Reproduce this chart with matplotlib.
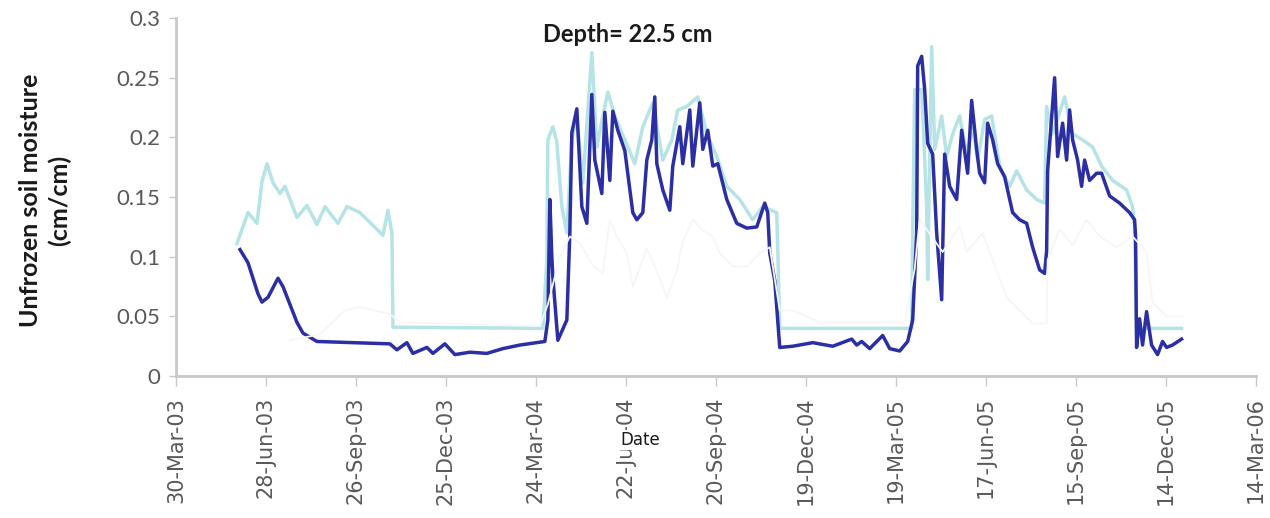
import numpy as np
import matplotlib
matplotlib.use("Agg")
import matplotlib.pyplot as plt
import matplotlib.dates as mdates
import datetime as dt

start_date = dt.date(2003, 3, 30)
end_date = dt.date(2006, 3, 14)
tick_step_days = 90

# simulated (light cyan) series: day offset from 30-Mar-03, moisture
sim_days = [61, 72, 81, 86, 91, 97, 104, 109, 121, 131, 141, 149, 162, 171, 184, 207, 212, 216, 217,
            367, 371, 372, 377, 381, 386, 391, 396, 401, 407, 416, 421, 427, 432, 439, 449, 459, 467,
            477, 487, 496, 502, 511, 522, 531, 541, 551, 564, 577, 587, 601, 602, 604,
            736, 737, 739, 746, 751, 752, 756, 759, 766, 771, 777, 784, 791, 797, 802, 809, 816, 824,
            834, 841, 851, 861, 869, 871, 877, 889, 897, 907, 917, 926, 937, 951, 957, 959, 961, 1006]
sim_vals = [0.111, 0.137, 0.128, 0.163, 0.178, 0.162, 0.153, 0.159, 0.133, 0.143, 0.127, 0.142, 0.128,
            0.142, 0.137, 0.118, 0.139, 0.120, 0.041,
            0.040, 0.097, 0.198, 0.209, 0.196, 0.142, 0.120, 0.198, 0.218, 0.162, 0.271, 0.192, 0.218,
            0.238, 0.218, 0.198, 0.178, 0.209, 0.229, 0.181, 0.198, 0.223, 0.226, 0.234, 0.203, 0.184,
            0.159, 0.148, 0.131, 0.142, 0.137, 0.107, 0.040,
            0.040, 0.120, 0.240, 0.240, 0.142, 0.081, 0.276, 0.190, 0.218, 0.184, 0.203, 0.218, 0.186,
            0.209, 0.181, 0.215, 0.218, 0.176, 0.159, 0.172, 0.156, 0.148, 0.145, 0.226, 0.203, 0.234,
            0.203, 0.198, 0.192, 0.176, 0.164, 0.156, 0.142, 0.125, 0.040, 0.040]

# observed (dark blue) series
obs_days = [64, 72, 82, 86, 92, 102, 107, 121, 127, 141, 214, 221, 231, 237, 251, 257, 269, 279, 294,
            311, 327, 344, 369, 372, 374, 376, 377, 382, 391, 394, 396, 401, 406, 411, 416, 419, 426,
            429, 434, 437, 442, 449, 457, 461, 467, 471, 476, 479, 481, 487, 494, 497, 504, 507, 514,
            517, 524, 527, 532, 537, 542, 551, 561, 571, 581, 589, 592, 594, 599, 604, 617, 637, 657,
            676, 681, 686, 694, 707, 714, 724, 732, 737, 741, 742, 746, 749, 752, 757, 761, 766, 769,
            774, 781, 786, 792, 796, 801, 804, 809, 812, 817, 822, 829, 837, 844, 851, 857, 864, 869,
            871, 872, 879, 882, 887, 891, 894, 897, 902, 906, 909, 914, 921, 926, 934, 944, 954, 959,
            960, 961, 964, 967, 971, 976, 982, 987, 991, 997, 1006]
obs_vals = [0.106, 0.095, 0.069, 0.062, 0.066, 0.082, 0.075, 0.045, 0.036, 0.029, 0.027, 0.022, 0.028,
            0.019, 0.024, 0.019, 0.027, 0.018, 0.020, 0.019, 0.023, 0.026, 0.029, 0.047, 0.148, 0.100,
            0.083, 0.030, 0.047, 0.120, 0.204, 0.224, 0.142, 0.128, 0.236, 0.181, 0.153, 0.221, 0.164,
            0.222, 0.206, 0.189, 0.137, 0.131, 0.137, 0.181, 0.198, 0.234, 0.178, 0.156, 0.139, 0.176,
            0.209, 0.178, 0.223, 0.176, 0.229, 0.190, 0.206, 0.176, 0.178, 0.148, 0.128, 0.124, 0.125,
            0.145, 0.137, 0.103, 0.080, 0.024, 0.025, 0.028, 0.025, 0.031, 0.026, 0.029, 0.023, 0.034,
            0.023, 0.021, 0.029, 0.047, 0.120, 0.260, 0.268, 0.240, 0.195, 0.186, 0.120, 0.064, 0.186,
            0.159, 0.148, 0.206, 0.170, 0.231, 0.190, 0.170, 0.162, 0.212, 0.198, 0.178, 0.167, 0.137,
            0.131, 0.128, 0.108, 0.089, 0.086, 0.105, 0.172, 0.250, 0.184, 0.212, 0.181, 0.223, 0.198,
            0.181, 0.159, 0.181, 0.164, 0.170, 0.170, 0.151, 0.145, 0.137, 0.131, 0.117, 0.024, 0.048,
            0.026, 0.054, 0.026, 0.018, 0.029, 0.024, 0.026, 0.031]

# faint third series
faint_days = [114, 144, 169, 184, 214, 224, 364, 372, 384, 394, 404, 417, 427, 434, 441, 451, 457, 471,
              481, 491, 501, 507, 517, 527, 537, 544, 557, 571, 584, 594, 604, 617, 644, 729, 739, 744,
              767, 784, 791, 807, 817, 831, 844, 857, 871, 872, 884, 897, 911, 924, 941, 957, 971, 977,
              991, 1007]
faint_vals = [0.030, 0.035, 0.055, 0.058, 0.052, 0.045, 0.042, 0.060, 0.100, 0.117, 0.111, 0.093, 0.086,
              0.131, 0.117, 0.103, 0.075, 0.107, 0.088, 0.066, 0.088, 0.113, 0.131, 0.122, 0.117, 0.103,
              0.092, 0.092, 0.103, 0.108, 0.055, 0.055, 0.045, 0.045, 0.090, 0.131, 0.104, 0.126, 0.104,
              0.120, 0.097, 0.066, 0.055, 0.044, 0.044, 0.097, 0.123, 0.110, 0.131, 0.117, 0.108, 0.117,
              0.104, 0.062, 0.050, 0.050]

y_ticks = [0, 0.05, 0.1, 0.15, 0.2, 0.25, 0.3]
y_tick_labels = ["0", "0.05", "0.1", "0.15", "0.2", "0.25", "0.3"]


def to_dates(days):
    return [start_date + dt.timedelta(days=d) for d in days]


fig = plt.figure(figsize=(12.7, 5.18), dpi=100)
ax = fig.add_axes([0.1386, 0.274, 0.850, 0.691])

ax.plot(to_dates(sim_days), sim_vals, color="#b5e3e6", lw=2.5, zorder=2, solid_joinstyle="round")
ax.plot(to_dates(obs_days), obs_vals, color="#2b2fa3", lw=2.5, zorder=3, solid_joinstyle="round")
ax.plot(to_dates(faint_days), faint_vals, color="#f6f6f6", lw=1.3, zorder=4)

ax.set_xlim(start_date, end_date)
ax.set_ylim(0, 0.3)
ticks = []
d = start_date
while d <= end_date:
    ticks.append(d)
    d = d + dt.timedelta(days=tick_step_days)
ax.set_xticks(ticks)
ax.xaxis.set_major_formatter(mdates.DateFormatter("%d-%b-%y"))
ax.set_yticks(y_ticks)
ax.set_yticklabels(y_tick_labels)

for s in ["top", "right"]:
    ax.spines[s].set_visible(False)
for s in ["left", "bottom"]:
    ax.spines[s].set_color("#c8c8c8")
    ax.spines[s].set_linewidth(2)

ax.tick_params(axis="y", direction="out", length=5, width=1, color="#c8c8c8",
               labelsize=16, labelcolor="#595959", pad=6)
ax.tick_params(axis="x", direction="out", length=7, width=1, color="#c8c8c8",
               labelsize=15, labelcolor="#595959", pad=8, labelrotation=90)
for lab in ax.get_yticklabels():
    lab.set_fontfamily("Lato")
for lab in ax.get_xticklabels():
    lab.set_fontfamily("DejaVu Sans")

ax.text(0.418, 0.955, "Depth= 22.5 cm", transform=ax.transAxes, ha="center", va="center",
        fontsize=17, fontweight="bold", family="Lato", color="#1a1a1a")

fig.text(45 / 1270, 1 - 200 / 518, "Unfrozen soil moisture\n(cm/cm)", rotation=90,
         ha="center", va="center", fontsize=18, fontweight="bold", family="Lato",
         color="#1a1a1a", linespacing=1.25)
fig.text(640 / 1270, 1 - 440 / 518, "Date", ha="center", va="center", fontsize=12,
         family=["Liberation Sans Narrow", "DejaVu Sans"], color="#1a1a1a", zorder=5,
         bbox=dict(facecolor="white", edgecolor="none", pad=0.5))

fig.savefig("out.png", dpi=100, facecolor="white")
